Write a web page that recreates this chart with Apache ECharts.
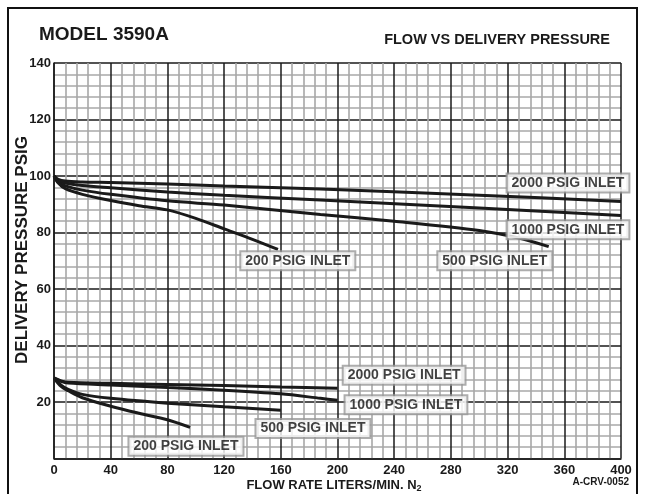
<!DOCTYPE html>
<html>
<head>
<meta charset="utf-8">
<script src="https://cdn.jsdelivr.net/npm/echarts@6/dist/echarts.min.js"></script>
<style>
  html, body { margin: 0; padding: 0; background: #fff; }
  #chart { width: 645px; height: 494px; }
</style>
</head>
<body>
<div id="chart"></div>
<script>
// flow (L/min N2) vs delivery pressure (psig)
const hi2000 = [[0, 100], [3, 98.8], [8, 98.2], [20, 97.9], [40, 97.7], [80, 97.2], [120, 96.5], [188, 95.4], [300, 93.2], [400, 91]]
const hi1000 = [[0, 100], [3, 98.3], [8, 97.5], [20, 96.6], [40, 95.8], [80, 94.3], [120, 93.2], [188, 91.5], [300, 88.7], [400, 86]]
const hi500 = [[0, 100], [3, 97.8], [8, 96.5], [20, 95], [40, 93.5], [80, 91.2], [120, 89.7], [188, 86.4], [240, 84], [300, 80.7], [330, 77.8], [349, 75]]
const hi200 = [[0, 100], [3, 97.5], [8, 95.5], [20, 93.5], [40, 91.3], [60, 89.5], [80, 88], [100, 85], [120, 81.3], [140, 77.6], [158, 74]]

const lo2000 = [[0, 28.5], [5, 27.5], [10, 27], [40, 26.6], [80, 26.2], [120, 25.8], [160, 25.3], [200, 24.9]]
const lo1000 = [[0, 28.5], [5, 27.3], [10, 26.7], [40, 26], [80, 25.1], [120, 24.2], [160, 22.9], [188, 21.3], [200, 20.6]]
const lo500 = [[0, 28.5], [5, 26], [10, 24.5], [20, 22.7], [40, 21.3], [80, 19.6], [120, 18.3], [160, 17.1]]
const lo200 = [[0, 28.5], [5, 25.5], [10, 24], [20, 21.5], [40, 18.5], [60, 16], [80, 13.7], [96, 11]]

const labelNames = ['2000 PSIG INLET', '1000 PSIG INLET', '500 PSIG INLET', '200 PSIG INLET',
  '2000 PSIG INLET', '1000 PSIG INLET', '500 PSIG INLET', '200 PSIG INLET']
const labelX = [362.6, 362.6, 311, 172, 247, 248.3, 182.7, 93.1]
const labelY = [97.5, 81, 70, 70, 29.5, 19, 10.6, 4.3]

const xTicks = [0, 40, 80, 120, 160, 200, 240, 280, 320, 360, 400]
const yTicks = [20, 40, 60, 80, 100, 120, 140]

const chart = echarts.init(document.getElementById('chart'))

const curves = [hi2000, hi1000, hi500, hi200, lo2000, lo1000, lo500, lo200]
const lineSeries = curves.map((d) => ({
  type: 'line',
  data: d,
  symbol: 'none',
  smooth: 0.3,
  lineStyle: { color: '#1a1a1a', width: 3 },
  z: 5,
}))

const font = 'Liberation Sans, Arial, sans-serif'

let option = {
  animation: false,
  backgroundColor: '#fff',
  textStyle: { fontFamily: font },
  title: [
    {
      text: 'MODEL 3590A',
      left: 34, top: 20,
      textStyle: { fontSize: 19, fontWeight: 'bold', color: '#1a1a1a', fontFamily: font },
    },
    {
      text: 'FLOW VS DELIVERY PRESSURE',
      right: 30, top: 27,
      textStyle: { fontSize: 14.5, fontWeight: 'bold', color: '#1a1a1a', fontFamily: font },
    },
  ],
  graphic: [
    {
      type: 'rect',
      shape: { x: 8, y: 8, width: 629, height: 520 },
      style: { fill: null, stroke: '#111', lineWidth: 2 },
      silent: true,
    },
    {
      type: 'text',
      right: 16, top: 477,
      style: { text: 'A-CRV-0052', font: 'bold 10px ' + font, fill: '#1a1a1a' },
    },
    {
      // y axis title
      type: 'text',
      x: 22, y: 250,
      rotation: Math.PI / 2,
      style: {
        text: 'DELIVERY PRESSURE PSIG',
        font: 'bold 17px ' + font,
        fill: '#1a1a1a',
        align: 'center',
        verticalAlign: 'middle',
      },
    },
    {
      // x axis title
      type: 'text',
      x: 334, y: 485,
      style: {
        text: '{a|FLOW RATE LITERS/MIN. N}{s|2}',
        align: 'center',
        verticalAlign: 'middle',
        fill: '#1a1a1a',
        rich: {
          a: { font: 'bold 13px ' + font, fill: '#1a1a1a' },
          s: { font: 'bold 9px ' + font, fill: '#1a1a1a', padding: [8, 0, 0, 0] },
        },
      },
    },
  ],
  grid: { left: 54, right: 24, top: 63, bottom: 35.5, outerBoundsMode: 'none', containLabel: false },
  xAxis: {
    type: 'value',
    min: 0, max: 400, interval: 40,
    axisLine: { lineStyle: { color: '#1a1a1a', width: 1.5 } },
    axisTick: { show: false },
    axisLabel: {
      margin: 5, fontSize: 13, fontWeight: 'bold', color: '#1a1a1a',
      formatter: (v) => (xTicks.includes(v) ? String(v) : ''),
    },
    splitLine: { show: true, lineStyle: { color: '#1a1a1a', width: 1.5 } },
    minorTick: { show: false, splitNumber: 5 },
    minorSplitLine: { show: true, lineStyle: { color: '#a8a8a8', width: 1.6 } },
  },
  yAxis: {
    type: 'value',
    min: 0, max: 140, interval: 20,
    axisLine: { show: true, lineStyle: { color: '#1a1a1a', width: 1.5 } },
    axisTick: { show: false },
    axisLabel: {
      margin: 3, fontSize: 13, fontWeight: 'bold', color: '#1a1a1a',
      formatter: (v) => (yTicks.includes(v) ? String(v) : ''),
    },
    splitLine: { show: true, lineStyle: { color: '#1a1a1a', width: 1.5 } },
    minorTick: { show: false, splitNumber: 5 },
    minorSplitLine: { show: true, lineStyle: { color: '#a8a8a8', width: 1.6 } },
  },
  series: [
    ...lineSeries,
    {
      type: 'scatter',
      symbolSize: 0,
      z: 10,
      data: labelNames.map((n, i) => ({ name: n, value: [labelX[i], labelY[i]] })),
      label: {
        show: true,
        position: 'inside',
        formatter: (p) => p.name,
        fontSize: 14,
        fontWeight: 'bold',
        color: '#111',
        fontFamily: font,
        backgroundColor: '#fff',
        borderColor: '#999',
        borderWidth: 2,
        padding: [2, 4, 1, 4],
      },
    },
  ],
}

chart.setOption(option)
</script>
</body>
</html>
